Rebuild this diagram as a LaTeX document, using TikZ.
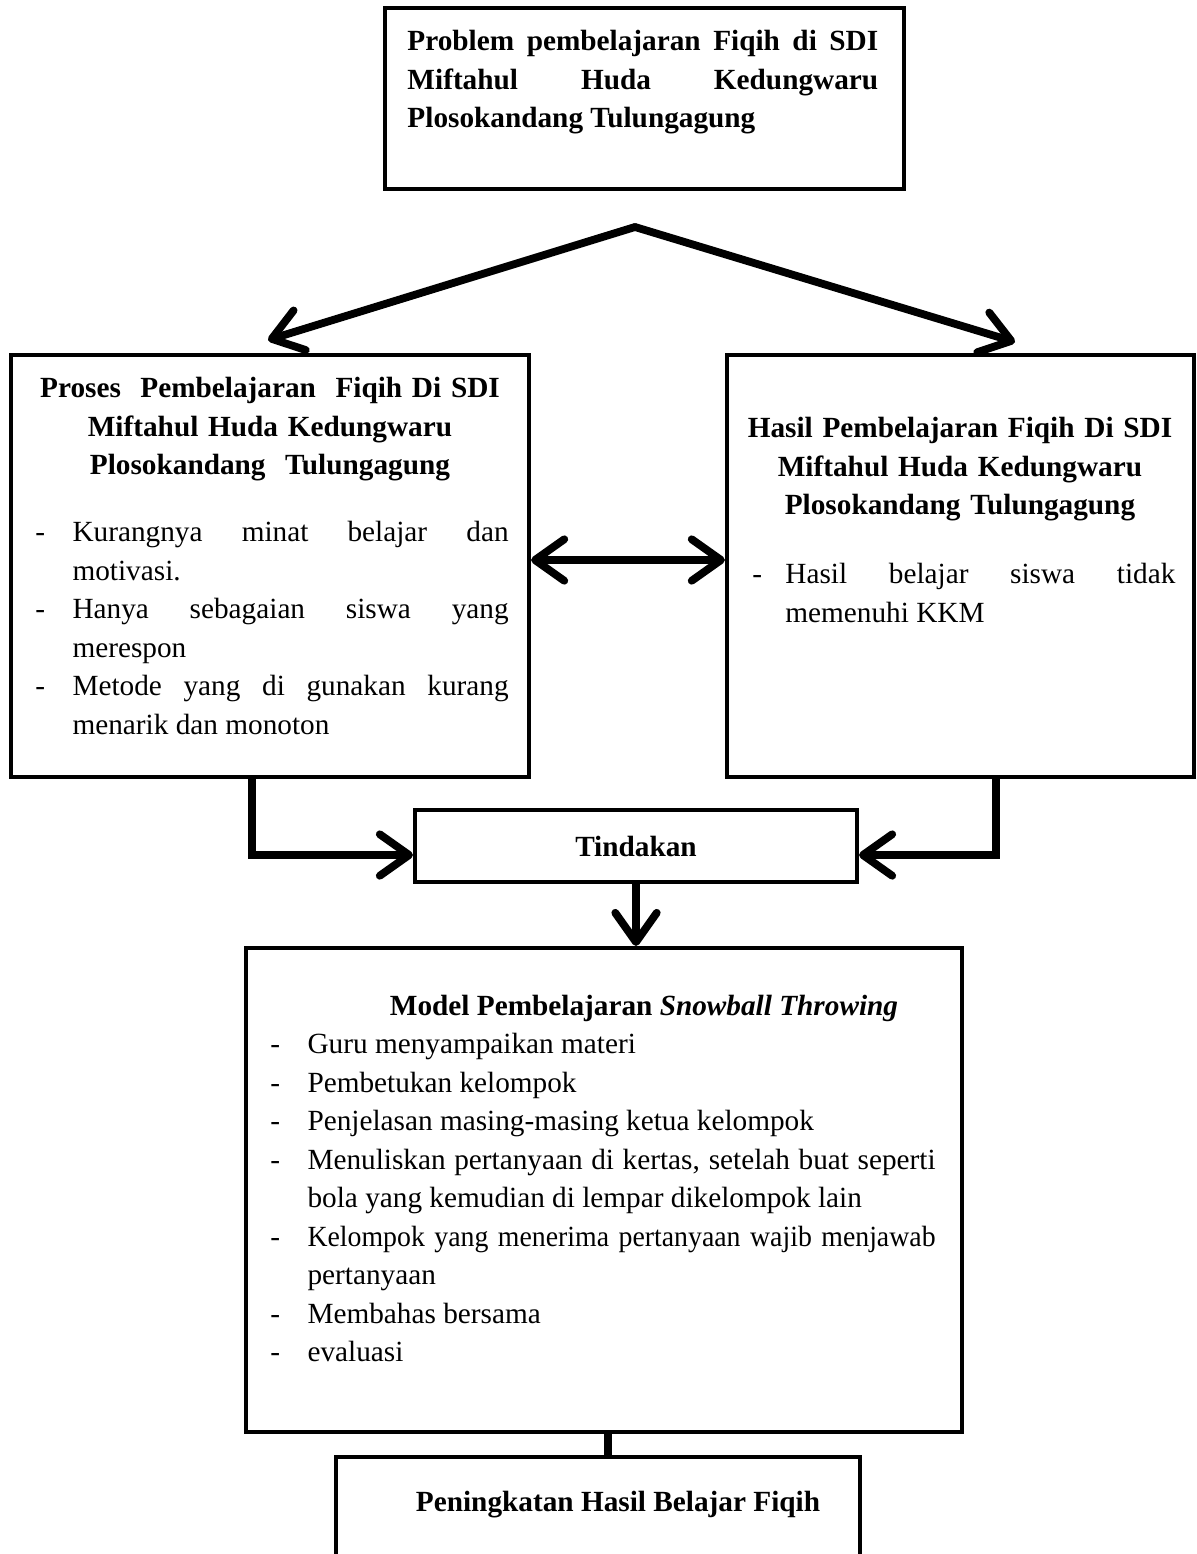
\documentclass[tikz,border=0pt]{standalone}
\usepackage{fontspec}
\setmainfont{Liberation Serif}
\usetikzlibrary{arrows.meta,calc}

\hyphenpenalty=10000
\exhyphenpenalty=10000

% one item of a list with a dash in front
\newcommand{\butir}[2][15.2pt]{\noindent\hangindent=#1\hangafter=1\makebox[#1][l]{\strut -}#2\par}

\begin{document}
\begin{tikzpicture}[x=0.41pt, y=-0.41pt,
  kotak/.style={draw, line width=1.7pt, inner sep=0pt},
  teks/.style={inner sep=0pt, font=\fontsize{12pt}{15.8pt}\selectfont},
  judul/.style={teks, font=\fontsize{12pt}{15.8pt}\selectfont\bfseries},
  panah/.style={line width=3.2pt, line cap=round, -{Straight Barb[round, length=12pt, width=17pt]}},
  duapanah/.style={line width=3.2pt, line cap=round, {Straight Barb[round, length=12pt, width=17pt]}-{Straight Barb[round, length=12pt, width=17pt]}}]
\path[use as bounding box, fill=white] (0,0) rectangle (1197,1554);
%\draw[very thin,color=gray] (0,0) grid[step=100] (1197,1554);

% kotak
\node[kotak, minimum width=212.8pt, minimum height=74.2pt] (problem) at (644.5,98.5) {};
\node[kotak, minimum width=212.4pt, minimum height=173pt] (proses) at (270,566) {};
\node[kotak, minimum width=191.5pt, minimum height=173pt] (hasil) at (960.5,566) {};
\node[kotak, minimum width=181.2pt, minimum height=29.5pt, font=\fontsize{12pt}{15.8pt}\selectfont\bfseries] (tindakan) at (636,846) {Tindakan};
\node[kotak, minimum width=293.6pt, minimum height=198.4pt] (model) at (604,1190) {};
\node[kotak, minimum width=214.8pt, minimum height=82pt] (akhir) at (598,1557) {};

% teks
\node[judul, anchor=north west, text width=193pt, align=justify] (problemtxt) at (407,23)
  {\strut Problem pembelajaran Fiqih di SDI\linebreak Miftahul Huda Kedungwaru\linebreak Plosokandang Tulungagung};

\node[judul, anchor=north, text width=200pt, align=center] (prosesjudul) at (270,370)
  {\strut Proses\ \ Pembelajaran\ \ Fiqih Di SDI\\ Miftahul Huda Kedungwaru\\ Plosokandang\ \ Tulungagung};
\node[teks, anchor=north west, text width=194pt, align=justify] (proseslist) at (35,514)
  {\butir{Kurangnya minat belajar dan\linebreak motivasi.}
   \butir{Hanya sebagaian siswa yang\linebreak merespon}
   \butir{Metode yang di gunakan kurang\linebreak menarik dan monoton}};

\node[judul, anchor=north, text width=185pt, align=center] (hasiljudul) at (960,410)
  {\strut Hasil Pembelajaran Fiqih Di SDI\\ Miftahul Huda Kedungwaru\\ Plosokandang Tulungagung};
\node[teks, anchor=north west, text width=173.4pt, align=justify] (hasillist) at (752,556)
  {\butir[13.5pt]{Hasil belajar siswa tidak\linebreak memenuhi KKM}};

\node[judul, anchor=north] (modeljudul) at (644,988)
  {\strut Model Pembelajaran \textit{Snowball Throwing}};
\node[teks, anchor=north west, text width=272.7pt, align=justify] (modellist) at (270,1026)
  {\butir{Guru menyampaikan materi}
   \butir{Pembetukan kelompok}
   \butir{Penjelasan masing-masing ketua kelompok}
   \butir{Menuliskan pertanyaan di kertas, setelah buat seperti\linebreak bola yang kemudian di lempar dikelompok lain}
   \butir{{\addfontfeature{FakeStretch=0.95}Kelompok yang menerima pertanyaan wajib menjawab}\linebreak pertanyaan}
   \butir{Membahas bersama}
   \butir{evaluasi}};

\node[judul, anchor=north] (akhirtxt) at (618,1484) {\strut Peningkatan Hasil Belajar Fiqih};

% panah
\coordinate (apex) at (635,227);
\coordinate (tipL) at (268,340);
\coordinate (tipR) at (1015,342);
\draw[panah] (apex) -- (tipL);
\draw[panah] (apex) -- (tipR);

\draw[duapanah] ($(proses.east)+(0,-6)$) -- ($(hasil.west)+(0,-6)$);

\draw[panah] ($(proses.south)+(-18,0)$) |- ($(tindakan.west)+(0,9)$);
\draw[panah] ($(hasil.south)+(35.5,0)$) |- ($(tindakan.east)+(0,9)$);
\draw[panah] (tindakan.south) -- (tindakan.south |- model.north);

\coordinate (m1) at ($(model.south)+(4,0)$);
\draw[line width=3.2pt] (m1) -- (m1 |- akhir.north);

\end{tikzpicture}
\end{document}
